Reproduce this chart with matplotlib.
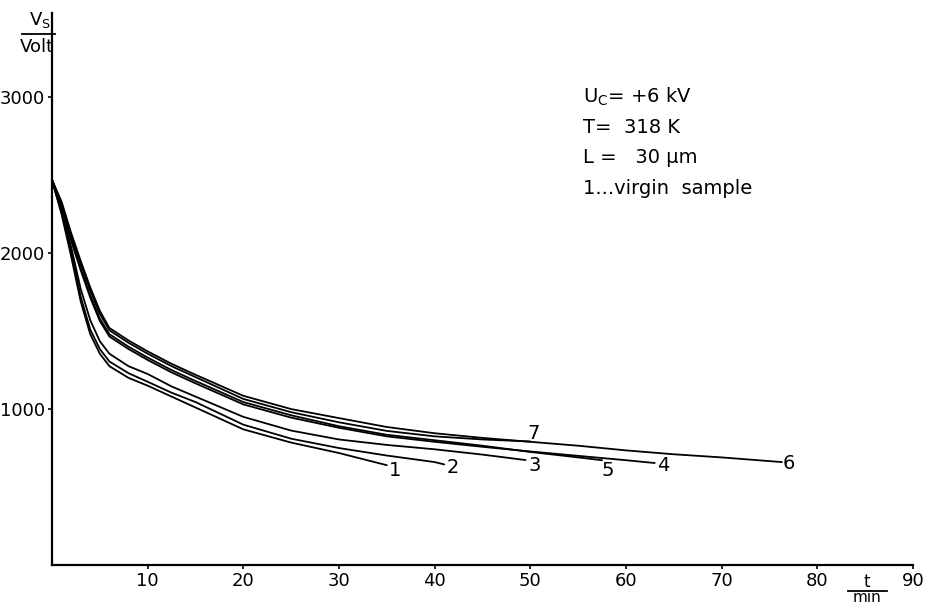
import matplotlib
matplotlib.use("Agg")
import matplotlib.pyplot as plt
from matplotlib.lines import Line2D

plt.rcParams['font.family'] = ['DejaVu Sans']

# time grid (min) and surface potential (V)
curve1_t = [0, 1, 2, 3, 4, 5, 6, 8, 10, 12.5, 15, 20, 25, 30, 35]
curve1_v = [2470, 2250, 1980, 1690, 1480, 1355, 1275, 1200, 1150, 1080, 1010, 870, 785, 718, 640]

curve2_t = [0, 1, 2, 3, 4, 5, 6, 8, 10, 12.5, 15, 20, 25, 30, 35, 40, 41]
curve2_v = [2470, 2260, 2010, 1720, 1510, 1385, 1305, 1230, 1175, 1105, 1045, 900, 810, 750, 702, 660, 645]

curve3_t = [0, 1, 2, 3, 4, 5, 6, 8, 10, 12.5, 15, 20, 25, 30, 35, 40, 45, 49.5]
curve3_v = [2470, 2270, 2040, 1770, 1570, 1435, 1355, 1275, 1225, 1145, 1080, 950, 862, 805, 770, 742, 708, 673]

curve4_t = [0, 1, 2, 3, 4, 5, 6, 8, 10, 12.5, 15, 20, 25, 30, 35, 40, 45, 50, 55, 60, 63]
curve4_v = [2470, 2290, 2080, 1890, 1715, 1565, 1465, 1385, 1315, 1235, 1165, 1030, 945, 880, 825, 790, 758, 728, 700, 672, 654]

curve5_t = [0, 1, 2, 3, 4, 5, 6, 8, 10, 12.5, 15, 20, 25, 30, 35, 40, 45, 50, 55, 57.5]
curve5_v = [2470, 2300, 2090, 1900, 1730, 1580, 1480, 1400, 1330, 1250, 1180, 1045, 960, 890, 835, 800, 765, 725, 690, 672]

curve6_t = [0, 1, 2, 3, 4, 5, 6, 8, 10, 12.5, 15, 20, 25, 30, 35, 40, 45, 50, 55, 60, 65, 70, 76.3]
curve6_v = [2470, 2330, 2130, 1950, 1780, 1630, 1520, 1440, 1370, 1290, 1220, 1085, 1000, 942, 885, 845, 815, 790, 765, 735, 710, 690, 660]

curve7_t = [0, 1, 2, 3, 4, 5, 6, 8, 10, 12.5, 15, 20, 25, 30, 35, 40, 45, 50]
curve7_v = [2470, 2320, 2110, 1930, 1760, 1610, 1505, 1425, 1355, 1275, 1205, 1065, 980, 915, 860, 825, 805, 792]

curve_labels = ["1", "2", "3", "4", "5", "6", "7"]
label_t = [35.9, 41.9, 50.5, 63.9, 58.1, 77.0, 50.3]
label_v = [609, 628, 635, 641, 603, 654, 846]

x_ticks = [10, 20, 30, 40, 50, 60, 70, 80, 90]
y_ticks = [1000, 2000, 3000]

info_lines = [r"U$_\mathrm{C}$= +6 kV", "T=  318 K", "L =   30 \u03bcm", "1...virgin  sample"]

W, H = 930, 606
fig = plt.figure(figsize=(W / 100, H / 100), dpi=100)
ax = fig.add_axes([52 / W, (H - 565) / H, (913 - 52) / W, (565 - 13) / H])

curves = [(curve1_t, curve1_v), (curve2_t, curve2_v), (curve3_t, curve3_v),
          (curve4_t, curve4_v), (curve5_t, curve5_v), (curve6_t, curve6_v),
          (curve7_t, curve7_v)]
for tt, vv in curves:
    ax.plot(tt, vv, color='black', lw=1.3, solid_capstyle='round', solid_joinstyle='round')

for lab, lt, lv in zip(curve_labels, label_t, label_v):
    ax.text(lt, lv, lab, ha='center', va='center', fontsize=14, color='black')

ax.set_xlim(0, 90)
ax.set_ylim(0, 3540)
ax.set_xticks(x_ticks)
ax.set_yticks(y_ticks)
ax.tick_params(axis='both', direction='out', length=3, width=1.2, labelsize=13, pad=2, colors='black')
for s in ['top', 'right']:
    ax.spines[s].set_visible(False)
for s in ['left', 'bottom']:
    ax.spines[s].set_linewidth(1.6)
    ax.spines[s].set_color('black')

# info block
for i, line in enumerate(info_lines):
    fig.text(583 / W, 1 - (97 + i * 30.5) / H, line, ha='left', va='center', fontsize=14)

# y axis unit fraction
fig.text(40 / W, 1 - 20 / H, r"V$_\mathrm{S}$", ha='center', va='center', fontsize=13)
fig.add_artist(Line2D([22 / W, 55 / W], [1 - 34 / H, 1 - 34 / H], color='black', lw=1.3))
fig.text(37 / W, 1 - 47 / H, "Volt", ha='center', va='center', fontsize=13)

# x axis unit fraction
fig.text(867 / W, 1 - 582 / H, "t", ha='center', va='center', fontsize=12)
fig.add_artist(Line2D([848 / W, 887 / W], [1 - 591 / H, 1 - 591 / H], color='black', lw=1.3))
fig.text(867 / W, 1 - 598 / H, "min", ha='center', va='center', fontsize=11)

fig.savefig("out.png", dpi=100, facecolor='white')
